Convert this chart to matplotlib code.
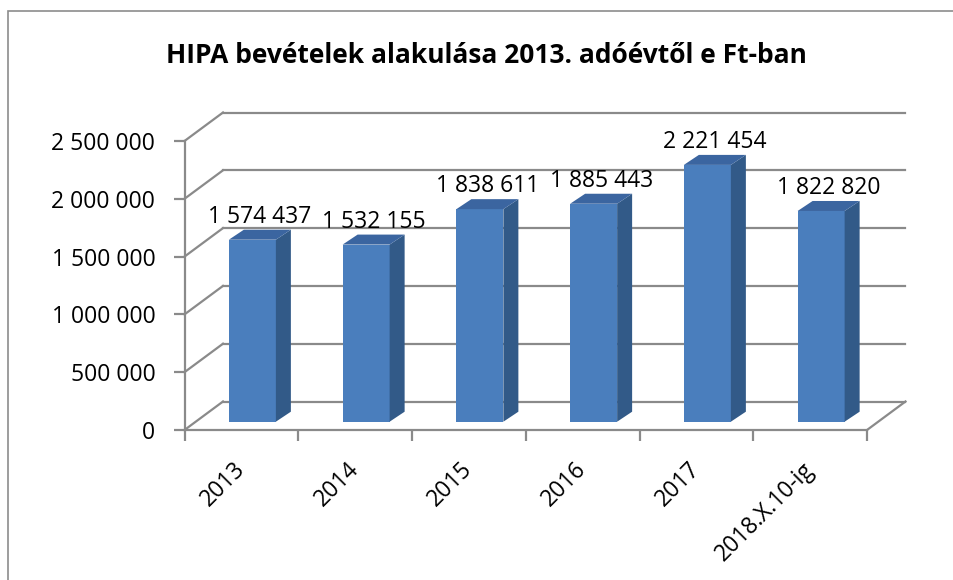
import matplotlib
matplotlib.use("Agg")
from matplotlib import pyplot as plt
from matplotlib.patches import Polygon, Rectangle

# data
categories = ["2013", "2014", "2015", "2016", "2017", "2018.X.10-ig"]
values = [1574437, 1532155, 1838611, 1885443, 2221454, 1822820]
yticks = [0, 500000, 1000000, 1500000, 2000000, 2500000]
title = "HIPA bevételek alakulása 2013. adóévtől e Ft-ban"


def fmt(v):
    return f"{v:,}".replace(",", " ")


W, H = 954, 580
fig = plt.figure(figsize=(W / 100, H / 100), dpi=100)
plt.rcParams['font.family'] = ['Open Sans', 'DejaVu Sans']

# axes placed in pixels: front axis x 184.5..867, y 0 at 430, 2.5M at 141
x0_px, x1_px = 184.5, 908
yb_px, yt_px = 430, 112
ax = fig.add_axes([x0_px / W, 1 - yb_px / H, (x1_px - x0_px) / W, (yb_px - yt_px) / H])

ux = (867 - 184.5) / 6.0          # px per category
uy = (430 - 141) / 2500000.0      # px per value unit
xmax = -0.5 + (x1_px - x0_px) / ux
ymax = (yb_px - yt_px) / uy
ax.set_xlim(-0.5, xmax)
ax.set_ylim(0, ymax)

# 3d look: offsets of the back wall and of the bars
wdx, wdy = 38.5 / ux, 28.5 / uy
bdx, bdy = 11 / ux, 8.3 / uy
ddx, ddy = 15 / ux, 10 / uy
bw = 47 / ux

grid_c = "#8a8a8a"
for v in yticks:
    ax.plot([-0.5, -0.5 + wdx], [v, v + wdy], color=grid_c, lw=1.6, zorder=1, clip_on=False)
    ax.plot([-0.5 + wdx, 5.5 + wdx], [v + wdy, v + wdy], color=grid_c, lw=1.6, zorder=1, clip_on=False)
ax.plot([5.5, 5.5 + wdx], [0, wdy], color=grid_c, lw=1.6, zorder=1, clip_on=False)

front_c, side_c, top_c = "#4a7ebd", "#325a88", "#3b65a0"
xs = list(range(len(categories)))
xf = [x + bdx for x in xs]
ax.bar(xf, values, width=bw, bottom=bdy, color=front_c, zorder=3)
for x, v in zip(xf, values):
    r = x + bw / 2
    l = x - bw / 2
    t = v + bdy
    ax.add_patch(Polygon([(r, bdy), (r + ddx, bdy + ddy), (r + ddx, t + ddy), (r, t)],
                         closed=True, facecolor=side_c, edgecolor="none", zorder=3))
    ax.add_patch(Polygon([(l, t), (r, t), (r + ddx, t + ddy), (l + ddx, t + ddy)],
                         closed=True, facecolor=top_c, edgecolor="none", zorder=3))
    ax.annotate(fmt(v), xy=(x + ddx / 2, t + ddy), xytext=(0, 13), textcoords="offset pixels",
                ha="center", va="center", fontsize=16.5, color="black", zorder=5)

# axes lines and ticks
for s in ["top", "right"]:
    ax.spines[s].set_visible(False)
for s in ["left", "bottom"]:
    ax.spines[s].set_color(grid_c)
    ax.spines[s].set_linewidth(1.6)
    ax.spines[s].set_zorder(2)
ax.spines["left"].set_bounds(0, 2500000)
ax.spines["bottom"].set_bounds(-0.5, 5.5)

ax.set_yticks(yticks)
ax.set_yticklabels([fmt(v) for v in yticks], fontsize=16.5)
ax.tick_params(axis="y", length=8, width=1.6, color=grid_c, pad=13)

ax.set_xticks([x - 0.5 for x in xs] + [5.5])
ax.set_xticklabels([])
ax.tick_params(axis="x", which="major", length=8, width=1.6, color=grid_c)
ax.set_xticks(xs, minor=True)
ax.set_xticklabels(categories, minor=True, rotation=45, ha="right", va="center",
                   rotation_mode="anchor", fontsize=16.5)
ax.tick_params(axis="x", which="minor", length=0, pad=26)
ax.patch.set_visible(False)

fig.text(486 / W, 1 - 63 / H, title, ha="center", va="baseline", fontsize=19,
         fontweight="bold", color="black")

# chart border (right and bottom edges fall outside the picture)
fig.patches.append(Rectangle((8 / W, -0.1), 1.2, 1.1 - 11 / H, transform=fig.transFigure,
                             fill=False, edgecolor="#8c8c8c", lw=1.2))

fig.savefig("out.png", dpi=100)
